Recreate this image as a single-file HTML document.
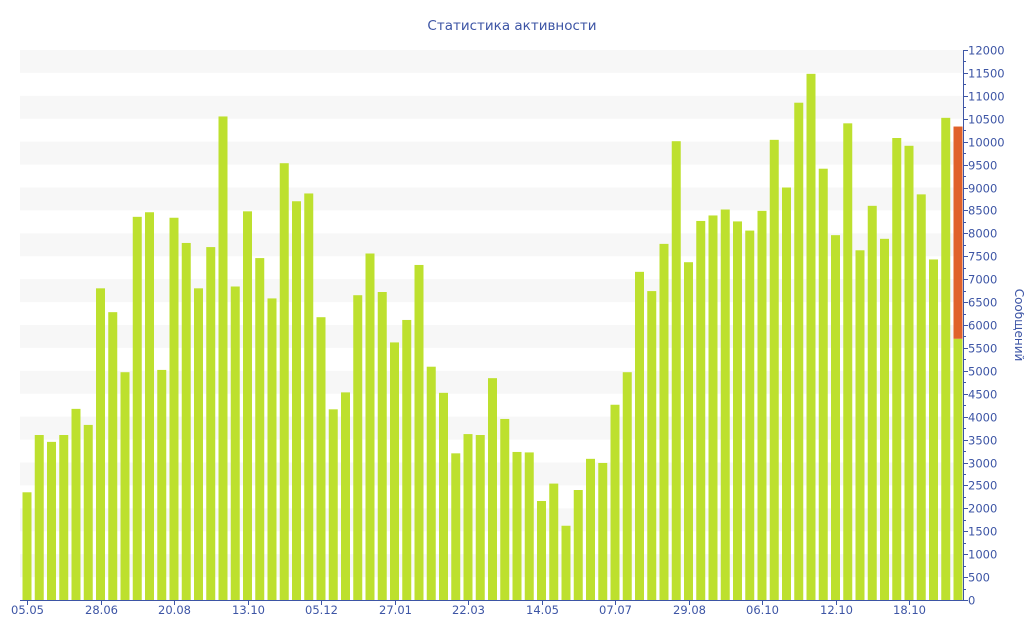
<!DOCTYPE html>
<html><head><meta charset="utf-8"><style>
body{margin:0;background:#fff;}
svg{display:block;font-family:"DejaVu Sans","Liberation Sans",sans-serif;}
</style></head><body>
<svg id="c" width="1024" height="640" xmlns="http://www.w3.org/2000/svg">
<text x="512" y="30" text-anchor="middle" font-size="13.5" fill="#3d55a5">Статистика активности</text>
<g id="bands"></g><g id="bars"></g><g id="axis"></g>
<text transform="translate(1015,325) rotate(90)" text-anchor="middle" font-size="12" fill="#3d55a5">Сообщений</text>
</svg>
<script>
const v=[2350,3600,3450,3600,4170,3820,6800,6280,4970,8360,8460,5020,8340,7790,6800,7700,10550,6840,8480,7460,6580,9530,8700,8870,6170,4160,4530,6650,7560,6720,5620,6110,7310,5090,4520,3200,3620,3600,4840,3950,3230,3220,2160,2540,1620,2400,3080,2990,4260,4970,7160,6740,7770,10010,7370,8270,8390,8520,8260,8060,8490,10040,9000,10850,11480,9410,7960,10400,7630,8600,7880,10080,9910,8850,7430,10520,10330];
const ns="http://www.w3.org/2000/svg";
const Y=x=>600-x*550/12000;
function el(p,t,a,txt){const e=document.createElementNS(ns,t);for(const k in a)e.setAttribute(k,a[k]);if(txt!==undefined)e.textContent=txt;document.getElementById(p).appendChild(e);}
for(let g=12000;g>0;g-=1000)el("bands","rect",{x:20,y:Y(g),width:943,height:550/24,fill:"#f7f7f7"});
const P=12.25;
v.forEach((d,i)=>{const cx=27+i*P;
 if(i==76){el("bars","rect",{x:cx-4.5,y:Y(5700),width:9,height:600-Y(5700),fill:"#bde02e"});
  el("bars","rect",{x:cx-4.5,y:Y(d),width:9,height:Y(5700)-Y(d),fill:"#e0622a"});}
 else el("bars","rect",{x:cx-4.5,y:Y(d),width:9,height:600-Y(d),fill:"#bde02e"});});
el("axis","line",{x1:20,y1:600.5,x2:963,y2:600.5,stroke:"#3d55a5"});
el("axis","line",{x1:963.5,y1:50,x2:963.5,y2:600,stroke:"#3d55a5"});
for(let t=0;t<=12000;t+=250){const y=Math.round(Y(t))+0.5;el("axis","line",{x1:963,y1:y,x2:t%500?966:968,y2:y,stroke:"#3d55a5"});
 if(t%500==0)el("axis","text",{x:968,y:y+4,"font-size":11.5,fill:"#3d55a5"},t);}
const L=["05.05","28.06","20.08","13.10","05.12","27.01","22.03","14.05","07.07","29.08","06.10","12.10","18.10"];
L.forEach((s,k)=>{const x=Math.round(27+k*6*P)+0.5;el("axis","line",{x1:x,y1:600,x2:x,y2:605,stroke:"#3d55a5"});
 el("axis","text",{x:x,y:614,"text-anchor":"middle","font-size":11.5,fill:"#3d55a5"},s);});
</script>
</body></html>
